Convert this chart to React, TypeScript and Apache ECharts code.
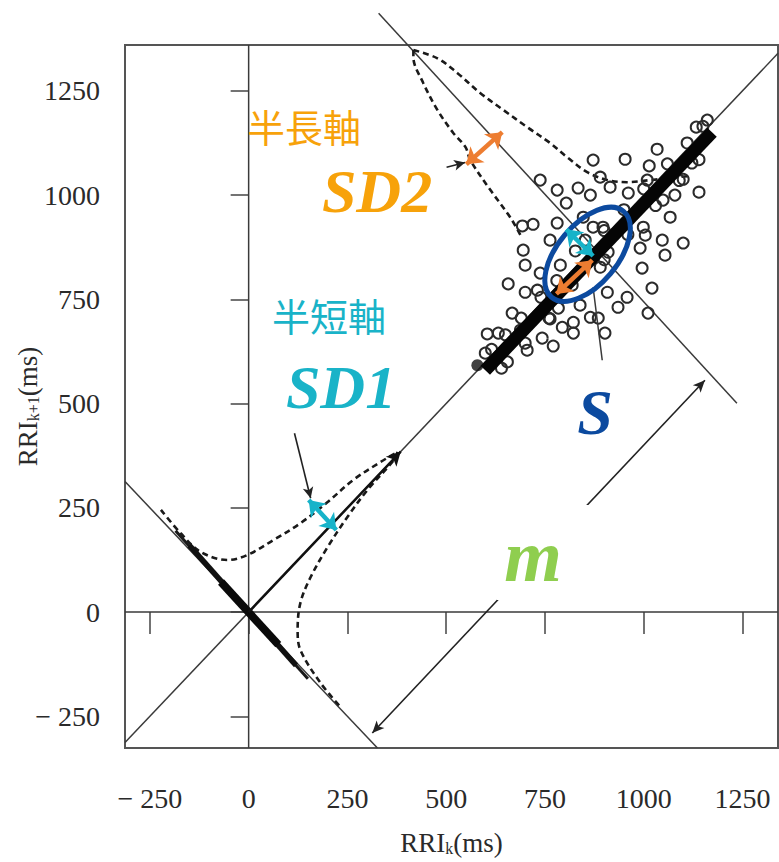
import React, { useEffect, useRef } from 'react';
import * as echarts from 'echarts';

// ---- axis ticks ----
const xTicks = [-250, 0, 250, 500, 750, 1000, 1250];
const yTicks = [-250, 0, 250, 500, 750, 1000, 1250];
const xRange = [-313, 1340];
const yRange = [-326, 1360];

// ---- scatter cloud (RRI_k, RRI_k+1) ----
const cloudX = [738, 781, 834, 865, 804, 872, 693, 720, 781, 763, 695, 1034, 1133, 953, 1014, 1122, 915, 961, 1009, 1100, 1140, 1049, 1079, 1067, 897, 847, 1004, 1047, 1100, 999, 700, 657, 700, 731, 738, 667, 604, 632, 688, 743, 705, 655, 771, 763, 794, 822, 822, 784, 839, 865, 991, 1054, 996, 1021, 958, 935, 1011, 908, 885, 902, 890, 910, 599, 872, 890, 827, 789, 852, 819, 1161];
const cloudY = [1036, 1012, 1017, 1000, 981, 1084, 926, 930, 933, 892, 868, 1110, 1163, 1086, 1070, 1077, 1019, 1005, 1036, 1038, 1007, 988, 1000, 947, 923, 947, 904, 892, 885, 923, 832, 787, 767, 772, 813, 717, 667, 669, 676, 657, 628, 600, 638, 703, 683, 695, 669, 729, 736, 707, 873, 856, 825, 777, 755, 731, 717, 767, 705, 669, 827, 863, 621, 923, 1043, 866, 832, 892, 784, 1180];
// points hugging the dense ridge
const ridgeX = [615, 650, 690, 740, 780, 900, 950, 1000, 1060, 1110, 1150, 640, 700, 760, 900, 960, 1030, 1090, 1140];
const ridgeY = [630, 665, 705, 755, 795, 915, 965, 1015, 1075, 1125, 1165, 585, 645, 705, 845, 905, 975, 1035, 1085];
const filledDot = [[579, 592]];

// ---- reference lines ----
const identityLine = [[-313, -313], [1340, 1340]];
const antiDiagOrigin = [[-313, 313], [326, -326]];
const antiDiagCenter = [[329, 1436], [1236, 501]];
const xZeroLine = [[0, -326], [0, 1360]];
const yZeroLine = [[-313, 0], [1340, 0]];

// dense ridge segments
const ridgeUpper = [[599, 580], [1173, 1151]];
const ridgeLowerThin = [[-185, 195], [150, -160]];
const ridgeLowerMid = [[-150, 160], [120, -128]];
const ridgeLowerCore = [[-70, 72], [75, -78]];

// ---- dashed contour curves ----
const curveA = [[-222, 245], [-172, 189], [-121, 144], [-53, 125], [-3, 137], [63, 173], [131, 213], [200, 264], [265, 317], [334, 360], [377, 384]];
const curveB = [[377, 384], [367, 364], [301, 293], [250, 228], [200, 156], [157, 84], [131, 22], [124, -43], [131, -91], [182, -170], [233, -228]];
const curveC = [[417, 1348], [417, 1331], [442, 1269], [478, 1204], [518, 1149], [549, 1115], [561, 1084], [612, 1012], [662, 947], [688, 904]];
const curveD = [[417, 1348], [478, 1328], [528, 1293], [586, 1245], [645, 1204], [705, 1163], [763, 1125], [806, 1091], [857, 1055], [908, 1036], [958, 1031], [1016, 1036], [1117, 1046]];

// ---- arrows ----
const meanArrow = [[0, 0], [385, 385]];
const sd1Arrow = [[152, 269], [222, 197]];
const sd2Arrow = [[551, 1074], [642, 1151]];
const sd1Pointer = [[116, 429], [157, 273]];
const sd2Pointer = [[501, 1067], [548, 1078]];
const sPointer = [[872, 779], [895, 604]];
const mArrow = [[1155, 556], [313, -290]];
const innerSd1 = [[804, 918], [872, 854]];
const innerSd2 = [[779, 763], [870, 844]];
const ellipseCenter = [858, 858];

const SERIF = '"Liberation Serif", "Times New Roman", serif';
const thin = { color: '#3a3a3a', width: 1.5, type: 'solid' as const };

function lineS(data: number[][], lineStyle: any, extra: any = {}) {
  return { type: 'line', data, showSymbol: false, symbol: 'none', silent: true, lineStyle, z: 3, ...extra };
}

function arrowS(pts: number[][], color: string, width: number, symbol: string[], size: number[], z = 60) {
  return {
    type: 'line',
    data: [],
    silent: true,
    z,
    markLine: {
      z,
      silent: true,
      animation: false,
      symbol,
      symbolSize: size,
      label: { show: false },
      emphasis: { disabled: true },
      lineStyle: { color, width, type: 'solid', opacity: 1 },
      data: [[{ coord: pts[0] }, { coord: pts[1] }]],
    },
  };
}

export default function App() {
  const ref = useRef<HTMLDivElement>(null);
  useEffect(() => {
    document.body.style.margin = '0';
    const chart = echarts.init(ref.current!, null, { renderer: 'svg' });
    const dashed = { color: '#1a1a1a', width: 2.6, type: [6, 4] as any };
    const richName = {
      a: { fontFamily: SERIF, fontSize: 27, color: '#2a2a2a', verticalAlign: 'bottom', lineHeight: 28 },
      b: { fontFamily: SERIF, fontSize: 16, color: '#2a2a2a', verticalAlign: 'bottom', lineHeight: 24 },
    };
    const option: any = {
      animation: false,
      backgroundColor: '#ffffff',
      grid: { left: 125, top: 45, width: 653, height: 703, show: true, borderColor: '#555', borderWidth: 2, backgroundColor: 'transparent', containLabel: false, outerBoundsMode: 'none' },
      xAxis: {
        type: 'value', min: xRange[0], max: xRange[1],
        axisLine: { show: false }, splitLine: { show: false },
        axisTick: { show: true, length: 22, lineStyle: { color: '#444', width: 1.5 }, customValues: xTicks },
        axisLabel: { customValues: xTicks, margin: 36, fontFamily: SERIF, fontSize: 28, color: '#2a2a2a', formatter: (v: number) => (v < 0 ? '\u2212 ' + Math.abs(v) : String(v)) },
        name: '{a|RRI}{b|k}{a|(ms)}', nameLocation: 'middle', nameGap: 80, nameMoveOverlap: false,
        nameTextStyle: { rich: richName },
      },
      yAxis: {
        type: 'value', min: yRange[0], max: yRange[1],
        axisLine: { show: false }, splitLine: { show: false },
        axisTick: { show: true, length: 18, lineStyle: { color: '#444', width: 1.5 }, customValues: yTicks },
        axisLabel: { customValues: yTicks, margin: 25, fontFamily: SERIF, fontSize: 28, color: '#2a2a2a', formatter: (v: number) => (v < 0 ? '\u2212 ' + Math.abs(v) : String(v)) },
        name: '{a|RRI}{b|k+1}{a|(ms)}', nameLocation: 'middle', nameRotate: 90, nameGap: 84, nameMoveOverlap: false,
        nameTextStyle: { padding: [0, 20, 0, 0], rich: richName },
      },
      series: [
        lineS(xZeroLine, thin),
        lineS(yZeroLine, thin),
        lineS(identityLine, thin),
        lineS(antiDiagOrigin, thin),
        lineS(antiDiagCenter, thin, { clip: false }),
        lineS(curveA, dashed, { smooth: 0.35 }),
        lineS(curveB, dashed, { smooth: 0.35 }),
        lineS(curveC, dashed, { smooth: 0.35, clip: false }),
        lineS(curveD, dashed, { smooth: 0.35 }),
        {
          type: 'scatter', silent: true, z: 4, symbol: 'circle', symbolSize: 11,
          data: cloudX.map((x, i) => [x, cloudY[i]]).concat(ridgeX.map((x, i) => [x, ridgeY[i]])),
          itemStyle: { color: 'rgba(255,255,255,0)', borderColor: '#2b2b2b', borderWidth: 2, opacity: 1 },
        },
        { type: 'scatter', silent: true, z: 4, symbol: 'circle', symbolSize: 12, data: filledDot, itemStyle: { color: '#111' } },
        lineS(ridgeUpper, { color: '#050505', width: 13, cap: 'butt' }, { z: 5 }),
        lineS(ridgeLowerThin, { color: '#1a1a1a', width: 3 }, { z: 5 }),
        lineS(ridgeLowerMid, { color: '#111', width: 5.5 }, { z: 5 }),
        lineS(ridgeLowerCore, { color: '#0a0a0a', width: 8 }, { z: 5 }),
        lineS(sPointer, thin, { z: 5 }),
        arrowS(meanArrow, '#111', 2.5, ['none', 'arrow'], [11, 14], 6),
        arrowS(sd1Pointer, '#222', 1.6, ['none', 'arrow'], [8, 11], 6),
        arrowS(sd2Pointer, '#222', 1.6, ['none', 'arrow'], [8, 11], 6),
        arrowS(mArrow, '#222', 1.6, ['arrow', 'arrow'], [8, 12], 6),
        arrowS(sd1Arrow, '#17b3c9', 4.5, ['arrow', 'arrow'], [16, 15], 60),
        arrowS(sd2Arrow, '#ed7d31', 4.5, ['arrow', 'arrow'], [16, 15], 60),
        arrowS(innerSd1, '#17b3c9', 4.5, ['arrow', 'arrow'], [16, 15], 60),
        arrowS(innerSd2, '#ed7d31', 4.5, ['arrow', 'arrow'], [16, 15], 60),
      ],
    };
    chart.setOption(option);

    const px = (v: number[]) => chart.convertToPixel({ gridIndex: 0 }, v) as number[];
    const c = px(ellipseCenter);
    const txt = (text: string, x: number, y: number, font: string, fill: string) => ({
      type: 'text', x, y, z: 80,
      style: { text, font, fill, align: 'center', verticalAlign: 'middle', textAlign: 'center', textVerticalAlign: 'middle' },
    });
    const jp = '"Noto Sans CJK JP", "Noto Sans CJK SC", sans-serif';
    const math = 'bold italic ';
    chart.setOption({
      graphic: [
        { type: 'rect', z: 50, shape: { x: 497, y: 505, width: 279, height: 95 }, style: { fill: '#ffffff' } },
        {
          type: 'ellipse', z: 55, x: c[0], y: c[1], rotation: (50 * Math.PI) / 180,
          shape: { cx: 0, cy: 0, rx: 56, ry: 30 },
          style: { fill: 'none', stroke: '#0c4a9f', lineWidth: 5 },
        },
        txt('半長軸', 304, 125, `38px ${jp}`, '#f7a20a'),
        txt('SD2', 377, 191, `${math}62px ${SERIF}`, '#f7a20a'),
        txt('半短軸', 329, 314, `38px ${jp}`, '#19b3c8'),
        txt('SD1', 341, 387, `${math}62px ${SERIF}`, '#19b3c8'),
        txt('S', 595, 412, `${math}64px ${SERIF}`, '#0c4a9f'),
        txt('m', 533, 556, `${math}74px ${SERIF}`, '#8fce4f'),
      ],
    });
    return () => chart.dispose();
  }, []);
  return <div ref={ref} style={{ width: 779, height: 862 }} />;
}
